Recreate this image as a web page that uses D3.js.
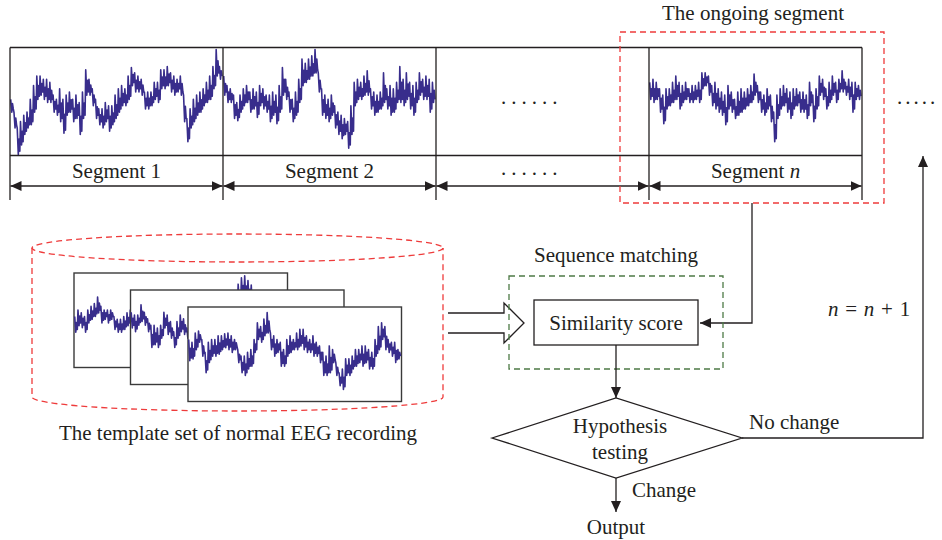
<!DOCTYPE html>
<html><head><meta charset="utf-8">
<script src="https://cdn.jsdelivr.net/npm/d3@7"></script>
<style>
body{margin:0;background:#fff}
svg{display:block}
text{font-family:"Liberation Serif","Times New Roman",serif;fill:#231f20;font-size:21px}
</style>
</head><body>
<svg id="c" width="942" height="540"></svg>
<script>
// ---- EEG traces: [upper, lower] amplitude per sample (arbitrary units, -50..50)
const segment1Trace = [[2,-10],[-10,-25],[-25,-50],[-19,-41],[-13,-31],[-10,-25],[2,-22],[15,-10],[24,2],[24,6],[21,2],[21,-1],[18,-1],[6,-10],[2,-13],[12,-19],[2,-30],[6,-13],[9,-10],[2,-19],[6,-16],[-1,-31],[9,-16],[30,6],[21,6],[12,-4],[2,-16],[-7,-22],[-7,-25],[-1,-19],[-4,-28],[-4,-22],[6,-16],[12,-10],[15,-4],[12,-4],[24,2],[32,15],[27,9],[24,9],[21,6],[9,-7],[9,-7],[9,-4],[18,2],[18,-1],[30,12],[30,12],[33,15],[27,9],[24,6],[21,9],[24,6],[6,-19],[-16,-38],[-7,-25],[2,-19],[6,-13],[9,-10],[12,-4],[18,-1],[24,2],[33,12],[49,24],[33,21]];
const segment2Trace = [[24,6],[15,-1],[12,-1],[6,-16],[-1,-18],[6,-10],[12,-4],[15,-1],[9,-10],[12,-7],[9,-15],[15,-4],[12,-7],[6,-10],[6,-19],[9,-13],[6,-21],[15,-10],[32,6],[21,2],[9,-10],[2,-19],[9,-13],[21,-1],[40,15],[36,18],[40,21],[43,24],[49,27],[27,9],[12,-13],[6,-16],[2,-19],[6,-13],[-4,-25],[-10,-31],[-13,-35],[-16,-31],[-19,-44],[-4,-31],[18,-4],[21,2],[18,2],[24,6],[29,6],[12,-7],[9,-13],[6,-10],[9,-7],[27,-1],[12,-7],[15,-13],[12,-10],[18,-1],[33,-1],[21,-4],[27,2],[18,-7],[15,-13],[18,-1],[27,6],[21,2],[24,2],[21,-10],[18,-1]];
const segmentNTrace = [[18,2],[21,-1],[18,2],[12,-10],[6,-21],[12,-7],[12,-4],[18,-1],[24,2],[18,-7],[15,-1],[18,2],[12,-1],[15,-1],[15,2],[18,-1],[27,12],[27,15],[24,6],[15,-4],[18,-7],[12,-10],[9,-13],[6,-22],[15,-7],[9,-10],[2,-16],[9,-13],[12,-10],[9,-7],[12,-4],[15,-1],[26,6],[15,-1],[9,-10],[6,-13],[12,-7],[6,-19],[-10,-38],[6,-16],[12,-7],[15,-4],[12,-10],[9,-16],[12,-7],[12,-4],[9,-10],[9,-10],[6,-16],[18,-4],[6,-19],[12,-7],[24,6],[21,2],[12,-7],[18,-1],[24,6],[18,-1],[21,9],[29,9],[18,6],[21,2],[18,-10],[18,2],[15,2]];
// template traces (null = hidden behind the next card)
const template1Trace = [[4,-13],[11,-6],[8,-8],[4,-13],[11,-3],[15,1],[18,4],[25,8],[15,-3],[11,1],[11,-3],[11,1],[4,-10],[1,-13],[1,-13],[4,-10],[8,-6],[11,-3]]
  .concat(Array(31).fill(null))
  .concat([[30,15],[39,20],[46,25],[48,22],[43,20],[38,15],[25,10]])
  .concat(Array(9).fill(null));
const template2Trace = [[27,10],[24,6],[24,13],[35,17],[27,13],[20,6],[13,-11],[13,-8],[10,-11],[13,-1],[27,10],[24,3],[17,-1],[6,-11],[17,-1],[24,6],[20,3],[10,-1]]
  .concat(Array(47).fill(null));
const template3Trace = [[16,-7],[13,-5],[23,5],[25,13],[16,-2],[2,-20],[13,-9],[16,-2],[16,-2],[20,0],[20,5],[22,7],[23,5],[20,2],[16,5],[5,-9],[-2,-20],[-2,-23],[2,-16],[5,-13],[16,2],[34,16],[30,13],[38,20],[45,23],[23,5],[20,-2],[16,2],[13,-13],[5,-13],[16,-2],[20,2],[16,5],[23,5],[27,9],[27,5],[20,2],[16,2],[20,-2],[13,-2],[9,-9],[2,-23],[-2,-23],[9,-20],[5,-9],[-9,-23],[-20,-34],[-16,-38],[-5,-23],[-5,-23],[-2,-16],[5,-13],[5,-9],[9,-13],[9,-9],[5,-16],[2,-16],[16,-2],[30,5],[34,16],[30,5],[16,2],[13,-2],[13,-9],[5,-5]];

// ---- labels
const segmentLabels = ["Segment 1", "Segment 2", "......", "Segment n"];
const ellipsisLabel = "......";
const ongoingLabel = "The ongoing segment";
const templateLabel = "The template set of normal EEG recording";
const matchingLabel = "Sequence matching";
const scoreLabel = "Similarity score";
const testLabel = ["Hypothesis", "testing"];
const noChangeLabel = "No change";
const changeLabel = "Change";
const outputLabel = "Output";

const INK = "#231f20", EEG = "#382d8c", RED = "#ee3b3b", GREEN = "#4d7a45";
const svg = d3.select("#c");
const defs = svg.append("defs");
defs.append("marker").attr("id","ah").attr("markerUnits","userSpaceOnUse")
  .attr("markerWidth",12).attr("markerHeight",10).attr("refX",11).attr("refY",5)
  .attr("orient","auto-start-reverse")
  .append("path").attr("d","M0,0L11,5L0,10Z").attr("fill",INK);

// each sample drawn as vertical hairs between its upper and lower value
function drawTrace(data, x0, x1, yTop, yBot) {
  const n = data.length;
  const x = d3.scaleLinear().domain([0, n]).range([x0, x1]);
  const y = d3.scaleLinear().domain([-50, 50]).range([yBot, yTop]);
  const runs = []; let cur = [];
  data.forEach((d, i) => {
    if (d == null) { if (cur.length) runs.push(cur); cur = []; return; }
    cur.push([x(i), y(d[0])]);
    cur.push([x(i + 0.33), y(d[1])]);
    cur.push([x(i + 0.55), y((d[0] + d[1]) / 2 + 2)]);
    cur.push([x(i + 0.8), y(d[1] + 3)]);
  });
  if (cur.length) runs.push(cur);
  const line = d3.line();
  runs.forEach(r => svg.append("path").attr("d", line(r)).attr("fill","none")
    .attr("stroke", EEG).attr("stroke-width", 1.6).attr("stroke-linejoin","round"));
}
function seg(x1,y1,x2,y2,opts={}) {
  const l = svg.append("line").attr("x1",x1).attr("y1",y1).attr("x2",x2).attr("y2",y2)
    .attr("stroke",opts.color||INK).attr("stroke-width",opts.w||1.3);
  if (opts.end) l.attr("marker-end","url(#ah)");
  if (opts.start) l.attr("marker-start","url(#ah)");
  return l;
}

// ---- top strip of segments
const stripX = d3.scaleBand().domain(segmentLabels).range([10, 862]);
const stripTop = 47.5, stripBot = 155.5;
[[segment1Trace,0],[segment2Trace,1],[segmentNTrace,3]].forEach(([tr,i]) => {
  const a = stripX(segmentLabels[i]);
  drawTrace(tr, a + 0.7, a + stripX.bandwidth() - 0.3, stripTop + 1, stripBot - 1);
});
seg(10, stripTop, 862, stripTop);
seg(10, stripBot, 862, stripBot);
const edges = segmentLabels.map(s => stripX(s)).concat([862]);
edges.forEach(e => seg(e, stripTop, e, 200));
segmentLabels.forEach((s, i) => {
  const a = stripX(s), b = a + stripX.bandwidth();
  seg(a + 0.5, 186, b - 0.5, 186, {start: true, end: true});
  if (i === 2) {
    svg.append("text").attr("x", 501).attr("y", 175).attr("letter-spacing", 5).text(ellipsisLabel);
    return;
  }
  const t = svg.append("text").attr("x", (a + b) / 2).attr("y", 178).attr("text-anchor","middle");
  if (i === 3) {
    t.text("Segment ");
    t.append("tspan").attr("font-style","italic").text("n");
  } else t.text(s);
});
svg.append("text").attr("x", 501).attr("y", 104).attr("letter-spacing", 5).text(ellipsisLabel);
svg.append("text").attr("x", 897).attr("y", 104).attr("letter-spacing", 3).text(".....");

// ongoing segment frame
svg.append("rect").attr("x",620).attr("y",32).attr("width",264).attr("height",171)
  .attr("fill","none").attr("stroke",RED).attr("stroke-width",1.3).attr("stroke-dasharray","6,4");
svg.append("text").attr("x",753).attr("y",20).attr("text-anchor","middle").text(ongoingLabel);

// connector to similarity score
svg.append("path").attr("d","M752,203V323H700").attr("fill","none").attr("stroke",INK)
  .attr("stroke-width",1.3).attr("marker-end","url(#ah)");

// ---- template cylinder
const cyl = svg.append("g").attr("fill","none").attr("stroke",RED).attr("stroke-width",1.3).attr("stroke-dasharray","6,4");
cyl.append("ellipse").attr("cx",237.5).attr("cy",248).attr("rx",205.5).attr("ry",14);
cyl.append("path").attr("d","M32,248V397A205.5,14 0 0 0 443,397V248");

const cards = [[74,273],[130.5,290],[188,307]];
const cardTraces = [template1Trace, template2Trace, template3Trace];
cards.forEach((c, i) => {
  svg.append("rect").attr("x",c[0]).attr("y",c[1]).attr("width",213.5).attr("height",94.5)
    .attr("fill","#fff").attr("stroke","#3a3a3a").attr("stroke-width",1.4);
  drawTrace(cardTraces[i], c[0] + 0.7, c[0] + 213.2, c[1] + 1, c[1] + 93.5);
});
svg.append("text").attr("x",238).attr("y",440).attr("text-anchor","middle").text(templateLabel);

// hollow arrow
svg.append("path").attr("d","M448,313H504V303L524,323L504,343V333H448")
  .attr("fill","#fff").attr("stroke",INK).attr("stroke-width",1.3);

// ---- sequence matching
svg.append("rect").attr("x",509).attr("y",276).attr("width",214).attr("height",93)
  .attr("fill","none").attr("stroke",GREEN).attr("stroke-width",1.3).attr("stroke-dasharray","6,4");
svg.append("text").attr("x",616).attr("y",262).attr("text-anchor","middle").text(matchingLabel);
svg.append("rect").attr("x",534).attr("y",300).attr("width",164).attr("height",45)
  .attr("fill","#fff").attr("stroke",INK).attr("stroke-width",1.3);
svg.append("text").attr("x",616).attr("y",330).attr("text-anchor","middle").text(scoreLabel);
seg(616, 345, 616, 398, {end: true});

// hypothesis diamond
svg.append("path").attr("d","M492,438L616,398L742,438L616,478Z").attr("fill","#fff").attr("stroke",INK).attr("stroke-width",1.3);
svg.append("text").attr("x",620).attr("y",433).attr("text-anchor","middle").text(testLabel[0]);
svg.append("text").attr("x",620).attr("y",459).attr("text-anchor","middle").text(testLabel[1]);

// no change loop
svg.append("path").attr("d","M742,438H923V156").attr("fill","none").attr("stroke",INK)
  .attr("stroke-width",1.3).attr("marker-end","url(#ah)");
svg.append("text").attr("x",749).attr("y",429).text(noChangeLabel);
const nn = svg.append("text").attr("x",828).attr("y",316).attr("word-spacing",1.5);
nn.append("tspan").attr("font-style","italic").text("n");
nn.append("tspan").text(" = ");
nn.append("tspan").attr("font-style","italic").text("n");
nn.append("tspan").text(" + 1");

// change -> output
seg(616, 478, 616, 512, {end: true});
svg.append("text").attr("x",632).attr("y",497).text(changeLabel);
svg.append("text").attr("x",616).attr("y",534).attr("text-anchor","middle").text(outputLabel);
</script>
</body></html>
